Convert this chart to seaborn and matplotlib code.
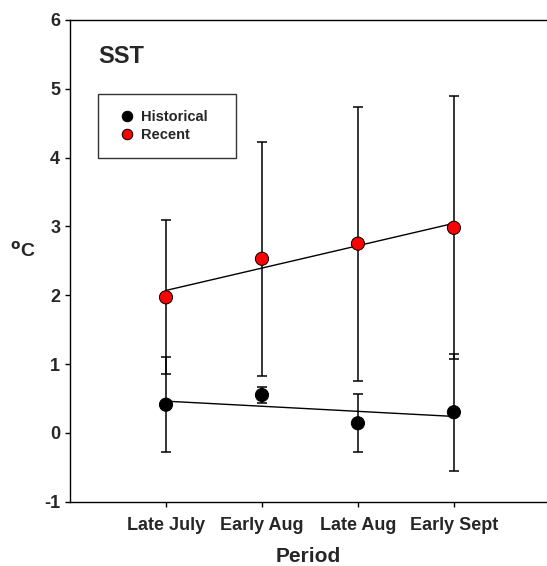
import matplotlib
matplotlib.use("Agg")
import matplotlib.pyplot as plt
import seaborn as sns
import pandas as pd

periods = ["Late July", "Early Aug", "Late Aug", "Early Sept"]
positions = [1, 2, 3, 4]

historical_mean = [0.41, 0.55, 0.14, 0.30]
historical_err = [0.69, 0.12, 0.42, 0.85]

recent_mean = [1.97, 2.53, 2.75, 2.98]
recent_err = [1.12, 1.70, 1.99, 1.91]

y_ticks = [-1, 0, 1, 2, 3, 4, 5, 6]

df = pd.DataFrame({
    "pos": positions * 2,
    "temp": historical_mean + recent_mean,
    "err": historical_err + recent_err,
    "group": ["Historical"] * 4 + ["Recent"] * 4,
})

sns.set_style("ticks")
plt.rcParams["font.family"] = ["Liberation Sans", "DejaVu Sans"]
plt.rcParams["font.weight"] = "bold"
plt.rcParams["axes.unicode_minus"] = False

fig = plt.figure(figsize=(5.47, 5.66), dpi=100)
ax = fig.add_axes([0.128, 0.1136, 0.872, 0.8511])

colors = {"Historical": "black", "Recent": "red"}

for name, sub in df.groupby("group"):
    ax.errorbar(sub["pos"], sub["temp"], yerr=sub["err"], fmt="none",
                ecolor="black", elinewidth=1.1, capsize=3.8, capthick=1.1, zorder=2)
    sns.regplot(data=sub, x="pos", y="temp", ci=None, scatter=False, ax=ax,
                line_kws={"color": "black", "lw": 1, "zorder": 3})

sns.scatterplot(data=df, x="pos", y="temp", hue="group", palette=colors,
                s=90, edgecolor="black", linewidth=0.7, ax=ax, zorder=4)

ax.set_xlim(0, 4.97)
ax.set_ylim(-1, 6)
ax.set_xticks(positions)
ax.set_xticklabels(periods)
ax.set_yticks(y_ticks)
ax.tick_params(axis="both", labelsize=13, length=3.6, width=1, color="black")
ax.tick_params(axis="x", pad=7.5)
for lab in ax.get_xticklabels() + ax.get_yticklabels():
    lab.set_fontweight("bold")

ax.set_xlabel("Period", fontsize=15, fontweight="bold", labelpad=9)
ax.set_ylabel("$^{\\mathbf{o}}$C", fontsize=14, fontweight="bold", rotation=0)
ax.yaxis.set_label_coords(-0.10, 0.50)

for side in ["left", "bottom", "top"]:
    ax.spines[side].set_color("black")
    ax.spines[side].set_linewidth(1)
ax.spines["right"].set_visible(False)

ax.text(0.29, 5.47, "SST", fontsize=17, fontweight="bold", va="center", ha="left")

leg = ax.legend(loc="upper left", bbox_to_anchor=(0.058, 0.713, 0.289, 0.133),
                mode="expand", borderaxespad=0, fontsize=10.5,
                frameon=True, fancybox=False, edgecolor="black", borderpad=1.1,
                handlelength=1.8, handletextpad=0.1, labelspacing=0.25,
                markerscale=0.8, title=None)
leg.get_frame().set_linewidth(1)
for t in leg.get_texts():
    t.set_fontweight("bold")

fig.savefig("out.png", dpi=100)
